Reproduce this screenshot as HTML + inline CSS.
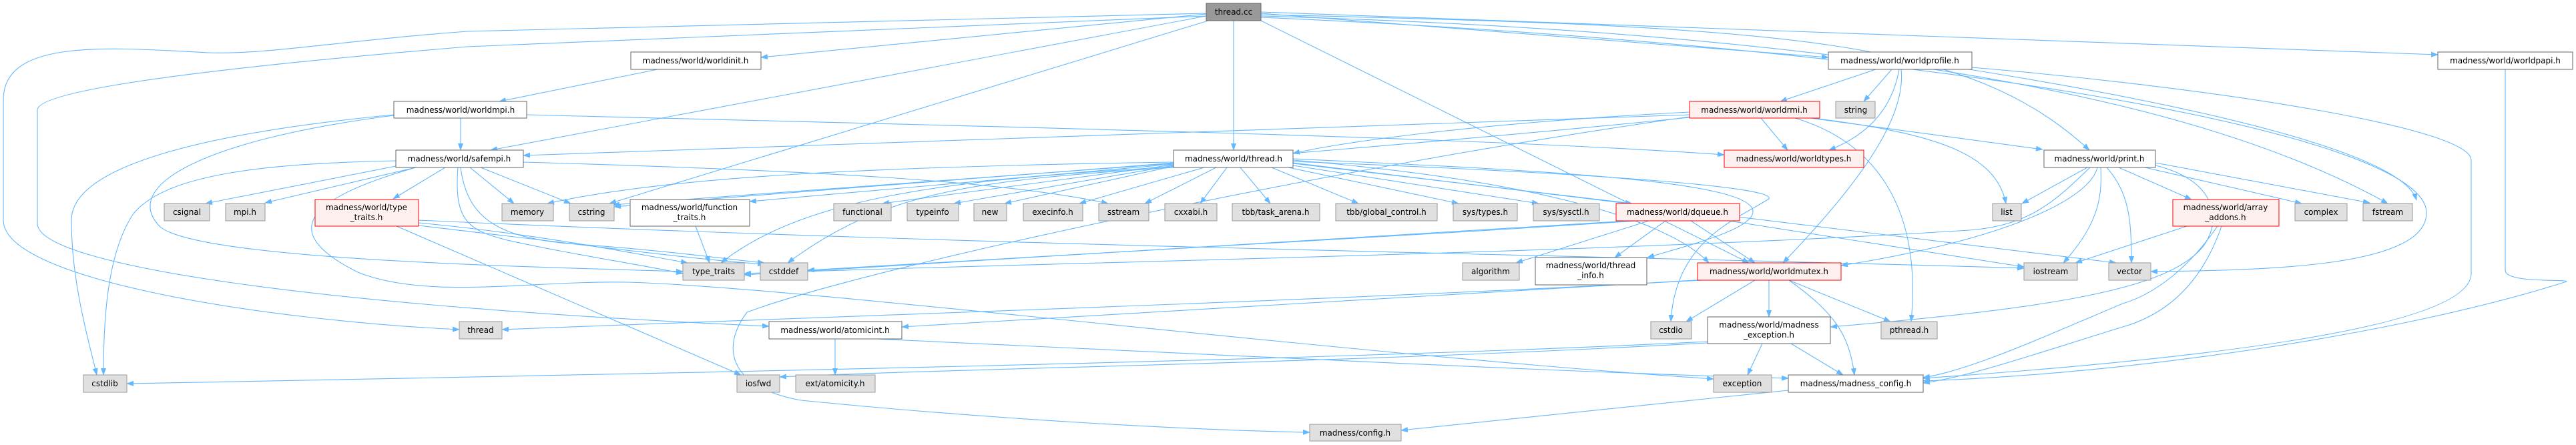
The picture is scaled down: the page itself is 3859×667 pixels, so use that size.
<!DOCTYPE html>
<html><head><meta charset="utf-8"><style>
html,body{margin:0;padding:0;background:#fff;}
svg{display:block;}
text{font-family:"DejaVu Sans","Liberation Sans",sans-serif;font-size:12px;fill:#000;text-anchor:middle;}
.e{fill:none;stroke:#63b8ff;stroke-width:1.1;marker-end:url(#a);}
.w{fill:#fff;stroke:#666;}
.g{fill:#e0e0e0;stroke:#999;}
.r{fill:#fff0f0;stroke:#f00;}
.m{fill:#999;stroke:#666;}
</style></head><body>
<svg width="3859" height="667" viewBox="0 0 3859 667" xmlns="http://www.w3.org/2000/svg">
<defs><marker id="a" markerWidth="11" markerHeight="8" refX="10" refY="4" orient="auto" markerUnits="userSpaceOnUse"><path d="M0,0 L11,4 L0,8 z" fill="#63b8ff"/></marker></defs>
<g>
<!-- thread.cc -->
<path class="e" d="M1807,21 L1140,86"/>
<path class="e" d="M1807,24 L735,225"/>
<path class="e" d="M1810,31 L913,305"/>
<path class="e" d="M1848,31 L1848,225"/>
<path class="e" d="M1889,20 L2739,86"/>
<path class="e" d="M1889,18 L3652,82"/>
<path class="e" d="M1889,22 C2700,40 2950,60 3130,225"/>
<path class="e" d="M1889,24 C2800,50 3300,150 3577,305"/>
<path class="e" d="M1889,31 L2620,394"/>
<path class="e" d="M1889,26 C2900,70 3635,200 3635,319 C3635,400 3400,405 3222,407"/>
<path class="e" d="M1807,20 L700,47 C500,62 400,82 312,79 C150,70 5,60 5,150 L5,330 C5,420 400,480 688,494"/>
<path class="e" d="M1807,24 L700,70 C400,95 56,130 56,165 L56,335 C56,400 500,460 1152,489"/>
<!-- worldinit / worldmpi -->
<path class="e" d="M985,104 L748,152"/>
<path class="e" d="M690,177 L690,225"/>
<path class="e" d="M789,172 C1500,190 2200,205 2583,232"/>
<path class="e" d="M590,172 C300,200 107,250 107,330 C107,420 130,500 145,562"/>
<path class="e" d="M590,173 C300,210 180,280 240,340 C300,390 800,400 1023,407"/>
<!-- safempi -->
<path class="e" d="M593,249 L308,305"/>
<path class="e" d="M623,251 L397,304"/>
<path class="e" d="M667,251 L589,298"/>
<path class="e" d="M704,251 L770,305"/>
<path class="e" d="M720,251 L855,305"/>
<path class="e" d="M686,251 C680,330 700,345 760,360 C850,380 950,395 1023,410"/>
<path class="e" d="M690,251 C700,330 750,355 850,365 C1000,375 1100,390 1145,394"/>
<path class="e" d="M593,241 C400,245 250,260 200,320 C160,380 155,480 155,562"/>
<path class="e" d="M623,251 C450,300 420,350 536,408 C640,450 800,420 940,423 C1200,430 2000,530 2567,568"/>
<path class="e" d="M784,243 C1200,255 1500,270 1660,305"/>
<!-- type_traits.h -->
<path class="e" d="M594,339 L1110,562"/>
<path class="e" d="M627,330 C1500,370 2500,385 3032,402"/>
<path class="e" d="M627,334 C800,350 950,380 1030,394"/>
<path class="e" d="M627,338 C900,370 1050,390 1145,396"/>
<path class="e" d="M1042,339 L1063,394"/>
<!-- thread.h -->
<path class="e" d="M1858,251 L1903,305"/>
<path class="e" d="M1838,251 L1798,305"/>
<path class="e" d="M1822,251 L1715,305"/>
<path class="e" d="M1804,251 L1617,305"/>
<path class="e" d="M1758,249 L1505,305"/>
<path class="e" d="M1758,248 L1429,305"/>
<path class="e" d="M1758,247 L1322,305"/>
<path class="e" d="M1758,246 L1123,302"/>
<path class="e" d="M1758,245 L918,307"/>
<path class="e" d="M1758,243 C1300,250 1000,265 820,305"/>
<path class="e" d="M1758,250 C1400,270 1200,300 1080,394"/>
<path class="e" d="M1758,251 C1450,270 1320,290 1180,394"/>
<path class="e" d="M1905,251 L2035,305"/>
<path class="e" d="M1930,251 L2185,305"/>
<path class="e" d="M1937,248 L2305,305"/>
<path class="e" d="M1937,245 L2445,305"/>
<path class="e" d="M1937,238 C2300,255 2626,270 2626,317 C2626,345 2520,370 2468,386"/>
<path class="e" d="M1937,242 C2400,260 2660,280 2650,298 C2600,330 2510,360 2503,482"/>
<path class="e" d="M1937,244 L3170,394"/>
<path class="e" d="M1937,240 C2300,270 2500,330 2560,394"/>
<!-- worldrmi -->
<path class="e" d="M2531,168 C2200,185 2000,215 1937,230"/>
<path class="e" d="M2531,172 C1800,195 1200,215 784,233"/>
<path class="e" d="M2638,177 L2678,225"/>
<path class="e" d="M2712,177 L3060,224"/>
<path class="e" d="M2716,177 C2900,200 2990,230 3005,305"/>
<path class="e" d="M2689,177 C2800,210 2880,300 2863,482"/>
<path class="e" d="M2531,176 C2000,230 1400,270 920,310"/>
<path class="e" d="M2531,175 C2000,250 1300,400 1119,468 C1080,520 1090,580 1200,600 C1500,630 1800,645 1962,648"/>
<!-- worldprofile -->
<path class="e" d="M2810,104 L2667,152"/>
<path class="e" d="M2834,104 L2792,152"/>
<path class="e" d="M2845,104 Q2830,190 2740,225"/>
<path class="e" d="M2848,104 C2855,170 2800,260 2671,394"/>
<path class="e" d="M2954,101 C3300,130 3702,190 3702,240 L3702,410 C3702,500 3200,545 2881,567"/>
<path class="e" d="M2950,104 C3300,160 3600,230 3620,300"/>
<path class="e" d="M3753,104 L3753,405 C3753,425 3845,418 3845,422 C3600,500 3200,560 2881,571"/>
<!-- print.h -->
<path class="e" d="M3127,251 L3029,305"/>
<path class="e" d="M3147,251 C3150,300 3140,340 3091,394"/>
<path class="e" d="M3156,251 C3190,290 3193,330 3193,394"/>
<path class="e" d="M3142,251 C3130,300 3000,360 2758,398"/>
<path class="e" d="M3131,251 C3080,300 3042,338 2950,345 C2400,380 1500,395 1115,410"/>
<path class="e" d="M3174,251 L3283,299"/>
<path class="e" d="M3213,251 L3448,305"/>
<path class="e" d="M3229,244 L3550,304"/>
<path class="e" d="M3229,248 C3320,270 3330,330 3300,370 C3250,430 3100,460 2742,490"/>
<!-- array_addons -->
<path class="e" d="M3276,339 L3109,394"/>
<path class="e" d="M3322,339 C3280,400 3230,440 3180,455 C3050,510 2950,555 2881,566"/>
<path class="e" d="M3328,339 C3300,420 3250,470 3180,490 C3050,530 2950,565 2881,574"/>
<!-- dqueue -->
<path class="e" d="M2470,331 L2271,394"/>
<path class="e" d="M2495,331 L2419,386"/>
<path class="e" d="M2533,331 L2629,394"/>
<path class="e" d="M2454,331 C2000,360 1500,390 1210,405"/>
<path class="e" d="M2440,331 C1900,365 1400,395 1115,412"/>
<path class="e" d="M2590,331 L3032,400"/>
<!-- worldmutex -->
<path class="e" d="M2629,420 L2526,482"/>
<path class="e" d="M2650,420 L2650,475"/>
<path class="e" d="M2680,420 L2832,482"/>
<path class="e" d="M2680,420 C2747,468 2770,500 2778,562"/>
<path class="e" d="M2557,419 C2200,440 1800,460 1351,490"/>
<path class="e" d="M2550,420 C2000,450 1500,465 752,494"/>
<!-- madness_exception -->
<path class="e" d="M2640,515 L2618,562"/>
<path class="e" d="M2683,515 L2761,562"/>
<path class="e" d="M2558,512 C2000,540 1000,560 190,575"/>
<path class="e" d="M2558,514 C2000,545 1500,550 1168,565"/>
<!-- atomicint -->
<path class="e" d="M1251,508 L1251,562"/>
<path class="e" d="M1313,508 C2000,540 2400,560 2679,567"/>
<!-- madness_config -->
<path class="e" d="M2679,585 L2099,645"/>
</g>
<g>
<rect class="m" x="1807" y="5" width="82" height="26"/><text x="1848" y="22">thread.cc</text>
<rect class="w" x="945" y="78" width="195" height="26"/><text x="1042" y="95">madness/world/worldinit.h</text>
<rect class="w" x="2739" y="78" width="215" height="26"/><text x="2846" y="95">madness/world/worldprofile.h</text>
<rect class="w" x="3652" y="78" width="202" height="26"/><text x="3753" y="95">madness/world/worldpapi.h</text>
<rect class="w" x="590" y="152" width="199" height="25"/><text x="690" y="169">madness/world/worldmpi.h</text>
<rect class="r" x="2531" y="152" width="195" height="25"/><text x="2628" y="169">madness/world/worldrmi.h</text>
<rect class="g" x="2750" y="152" width="59" height="25"/><text x="2780" y="169">string</text>
<rect class="w" x="593" y="225" width="191" height="26"/><text x="688" y="242">madness/world/safempi.h</text>
<rect class="w" x="1758" y="225" width="179" height="26"/><text x="1848" y="242">madness/world/thread.h</text>
<rect class="r" x="2583" y="225" width="209" height="26"/><text x="2687" y="242">madness/world/worldtypes.h</text>
<rect class="w" x="3062" y="225" width="167" height="26"/><text x="3145" y="242">madness/world/print.h</text>

<rect class="g" x="246" y="305" width="68" height="26"/><text x="280" y="322">csignal</text>
<rect class="g" x="338" y="305" width="59" height="26"/><text x="367" y="322">mpi.h</text>
<rect class="r" x="472" y="299" width="155" height="40"/><text x="549" y="315">madness/world/type</text><text x="549" y="330">_traits.h</text>
<rect class="g" x="752" y="305" width="77" height="26"/><text x="790" y="322">memory</text>
<rect class="g" x="853" y="305" width="67" height="26"/><text x="886" y="322">cstring</text>
<rect class="w" x="944" y="299" width="179" height="40"/><text x="1033" y="315">madness/world/function</text><text x="1033" y="330">_traits.h</text>
<rect class="g" x="1249" y="305" width="86" height="26"/><text x="1292" y="322">functional</text>
<rect class="g" x="1359" y="305" width="77" height="26"/><text x="1397" y="322">typeinfo</text>
<rect class="g" x="1459" y="305" width="49" height="26"/><text x="1483" y="322">new</text>
<rect class="g" x="1533" y="305" width="89" height="26"/><text x="1577" y="322">execinfo.h</text>
<rect class="g" x="1646" y="305" width="75" height="26"/><text x="1683" y="322">sstream</text>
<rect class="g" x="1745" y="305" width="78" height="26"/><text x="1784" y="322">cxxabi.h</text>
<rect class="g" x="1846" y="305" width="131" height="26"/><text x="1911" y="322">tbb/task_arena.h</text>
<rect class="g" x="2001" y="305" width="152" height="26"/><text x="2077" y="322">tbb/global_control.h</text>
<rect class="g" x="2177" y="305" width="96" height="26"/><text x="2225" y="322">sys/types.h</text>
<rect class="g" x="2297" y="305" width="99" height="26"/><text x="2346" y="322">sys/sysctl.h</text>
<rect class="r" x="2421" y="305" width="185" height="26"/><text x="2513" y="322">madness/world/dqueue.h</text>
<rect class="g" x="2985" y="305" width="43" height="26"/><text x="3006" y="322">list</text>
<rect class="r" x="3255" y="299" width="159" height="40"/><text x="3334" y="315">madness/world/array</text><text x="3334" y="330">_addons.h</text>
<rect class="g" x="3438" y="305" width="78" height="26"/><text x="3477" y="322">complex</text>
<rect class="g" x="3540" y="305" width="74" height="26"/><text x="3577" y="322">fstream</text>

<rect class="g" x="1023" y="394" width="92" height="26"/><text x="1069" y="411">type_traits</text>
<rect class="g" x="1139" y="394" width="71" height="26"/><text x="1174" y="411">cstddef</text>
<rect class="g" x="2191" y="394" width="85" height="26"/><text x="2233" y="411">algorithm</text>
<rect class="w" x="2300" y="386" width="167" height="41"/><text x="2383" y="402">madness/world/thread</text><text x="2383" y="417">_info.h</text>
<rect class="r" x="2543" y="394" width="215" height="26"/><text x="2650" y="411">madness/world/worldmutex.h</text>
<rect class="g" x="3032" y="394" width="80" height="26"/><text x="3072" y="411">iostream</text>
<rect class="g" x="3159" y="394" width="63" height="26"/><text x="3190" y="411">vector</text>

<rect class="g" x="688" y="482" width="64" height="26"/><text x="720" y="499">thread</text>
<rect class="w" x="1152" y="482" width="199" height="26"/><text x="1251" y="499">madness/world/atomicint.h</text>
<rect class="g" x="2473" y="482" width="61" height="26"/><text x="2503" y="499">cstdio</text>
<rect class="w" x="2558" y="475" width="184" height="40"/><text x="2650" y="491">madness/world/madness</text><text x="2650" y="506">_exception.h</text>
<rect class="g" x="2818" y="482" width="84" height="26"/><text x="2860" y="499">pthread.h</text>

<rect class="g" x="125" y="562" width="65" height="26"/><text x="157" y="579">cstdlib</text>
<rect class="g" x="1104" y="562" width="64" height="26"/><text x="1136" y="579">iosfwd</text>
<rect class="g" x="1192" y="562" width="119" height="26"/><text x="1251" y="579">ext/atomicity.h</text>
<rect class="g" x="2567" y="562" width="87" height="26"/><text x="2610" y="579">exception</text>
<rect class="w" x="2679" y="562" width="202" height="26"/><text x="2780" y="579">madness/madness_config.h</text>
<rect class="g" x="1962" y="636" width="137" height="25"/><text x="2030" y="653">madness/config.h</text>
</g>
</svg>
</body></html>
